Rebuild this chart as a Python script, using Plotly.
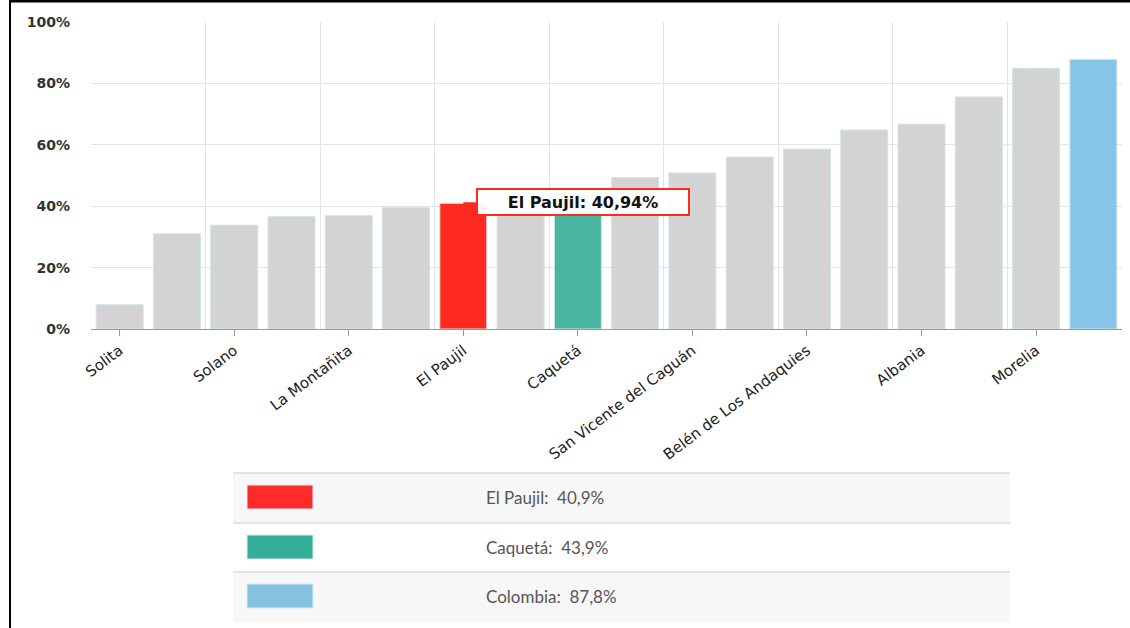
import plotly.graph_objects as go

# ---------------- data ----------------
categories = [
    "Solita", "Cartagena del Chairá", "Solano", "Curillo", "La Montañita",
    "Milán", "El Paujil", "El Doncello", "Caquetá", "Puerto Rico",
    "San Vicente del Caguán", "Florencia", "Belén de Los Andaquies",
    "Valparaíso", "Albania", "San José del Fragua", "Morelia", "Colombia",
]
values = [7.9, 31.0, 33.8, 36.6, 36.9, 39.5, 40.94, 42.5, 43.9, 49.3,
          50.8, 56.0, 58.6, 64.8, 66.7, 75.6, 84.9, 87.8]
highlight_colors = {"El Paujil": "#FF2A1F", "Caquetá": "#48B5A0", "Colombia": "#85C6E8"}
legend_colors = {"El Paujil": "#FF2A2A", "Caquetá": "#33AE96", "Colombia": "#85C1E0"}
legend_items = ["El Paujil", "Caquetá", "Colombia"]
tooltip_item = "El Paujil"
base_color = "#D3D3D3"
y_ticks = [0, 20, 40, 60, 80, 100]

# ---------------- layout geometry ----------------
W, H = 1130, 628
L, R, T, B = 91, 8, 22, 299
PW, PH = W - L - R, H - T - B


def px_x(p):
    return (p - L) / PW


def px_y(p):
    return (H - B - p) / PH


xs = list(range(len(categories)))
colors = [highlight_colors.get(c, base_color) for c in categories]
label_idx = [i for i in xs[0::2] if categories[i] != "Colombia"]

fig = go.Figure()
fig.add_trace(go.Bar(
    x=xs, y=values, width=0.82,
    marker=dict(color=colors, line=dict(color="#CFE3EC", width=1)),
    hoverinfo="skip",
))

fig.update_layout(
    width=W, height=H,
    margin=dict(l=L, r=R, t=T, b=B, pad=0),
    paper_bgcolor="white", plot_bgcolor="white",
    showlegend=False,
)

fig.update_xaxes(
    range=[-0.5, len(categories) - 0.5],
    tickmode="array", tickvals=label_idx,
    ticktext=[categories[i] for i in label_idx],
    tickangle=-37, ticks="outside", ticklen=6, tickcolor="#999999",
    tickfont=dict(family="DejaVu Sans", size=15, color="#222222"),
    showgrid=False, zeroline=False,
    showline=True, linecolor="#999999", linewidth=1,
    minor=dict(tickmode="array",
               tickvals=[i - 0.5 for i in range(0, len(categories) + 1, 2)],
               showgrid=True, gridcolor="#E4E4E4", gridwidth=1, ticklen=0),
)
fig.update_yaxes(
    range=[0, 100], tickmode="array", tickvals=y_ticks,
    ticktext=[f"{v}%" for v in y_ticks],
    tickfont=dict(family="DejaVu Sans", size=14, color="#333333", weight="bold"),
    showgrid=True, gridcolor="#E4E4E4", gridwidth=1,
    zeroline=False, showline=False, ticks="",
    ticklabelstandoff=20,
)

# ---------------- tooltip ----------------
ti = categories.index(tooltip_item)
tv = values[ti]
fig.add_annotation(
    x=ti, y=tv, xref="x", yref="y",
    text="<b>" + tooltip_item + ": " + f"{tv:.2f}".replace(".", ",") + "%</b>",
    font=dict(family="DejaVu Sans", size=16, color="#111111"),
    width=206, height=20, align="center",
    showarrow=True, arrowhead=0, arrowcolor="#FF2A1F", arrowwidth=2,
    ax=120, ay=-1, axref="pixel", ayref="pixel",
    bgcolor="rgba(255,255,255,0.95)", bordercolor="#FF2A1F", borderwidth=2,
    borderpad=2,
)

# ---------------- legend table ----------------
shapes = []
row_tops = [473, 523, 572]
row_h = 50
tx0, tx1 = 233, 1010
for k, name in enumerate(legend_items):
    top = row_tops[k]
    fill = "#F7F7F7" if k % 2 == 0 else "#FFFFFF"
    shapes.append(dict(type="rect", xref="paper", yref="paper",
                       x0=px_x(tx0), x1=px_x(tx1), y0=px_y(top + row_h), y1=px_y(top),
                       fillcolor=fill, line=dict(width=0), layer="below"))
    shapes.append(dict(type="line", xref="paper", yref="paper",
                       x0=px_x(tx0), x1=px_x(tx1), y0=px_y(top), y1=px_y(top),
                       line=dict(color="#E3E3E3", width=2)))
    cy = top + row_h / 2 - 1
    shapes.append(dict(type="rect", xref="paper", yref="paper",
                       x0=px_x(247), x1=px_x(313), y0=px_y(cy + 12), y1=px_y(cy - 12),
                       fillcolor=legend_colors[name], line=dict(color="#D8EEF5", width=1)))
    v = values[categories.index(name)]
    fig.add_annotation(
        x=px_x(484), y=px_y(cy), xref="paper", yref="paper",
        xanchor="left", yanchor="middle", showarrow=False,
        text=name + ":  " + f"{v:.1f}".replace(".", ",") + "%",
        font=dict(family="Lato", size=17, color="#555555"),
    )

# screenshot frame lines (left and top)
shapes.append(dict(type="line", xref="paper", yref="paper",
                   x0=px_x(10), x1=px_x(10), y0=px_y(H), y1=px_y(0),
                   line=dict(color="#000000", width=2)))
shapes.append(dict(type="line", xref="paper", yref="paper",
                   x0=px_x(9), x1=px_x(W), y0=px_y(1), y1=px_y(1),
                   line=dict(color="#000000", width=3)))

fig.update_layout(shapes=shapes)
fig.write_html(
    "out.html",
    config={"displayModeBar": False},
    post_script="document.body.style.margin='0px';document.body.style.overflow='hidden';",
)
